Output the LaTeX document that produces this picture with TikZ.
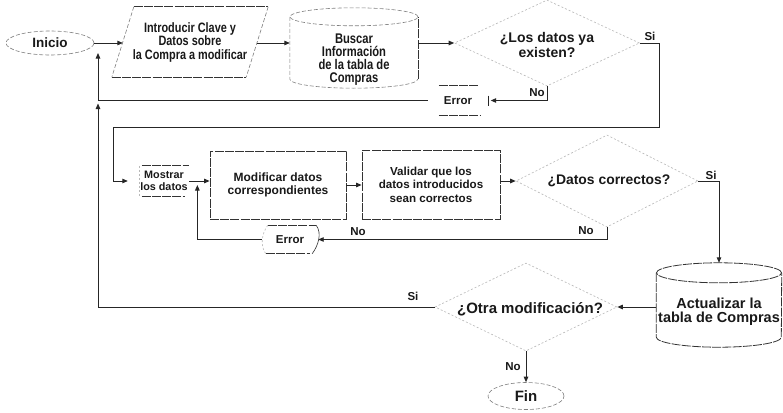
\documentclass[tikz,border=0pt]{standalone}
\usepackage{fontspec}
\setmainfont{Liberation Sans}
\newfontfamily\narrowfont{Liberation Sans}[FakeStretch=0.8]
\usetikzlibrary{shapes.geometric,arrows.meta,calc}
\newcommand{\fsz}[2]{\fontsize{#1}{#2}\selectfont\bfseries}
\begin{document}
\begin{tikzpicture}[x=1pt,y=-1pt,
  every node/.style={inner sep=0pt,align=center,text=black!90},
  conn/.style={draw=black!85,line width=0.9pt,-{Triangle[length=5.5pt,width=4.5pt]}},
  wire/.style={draw=black!85,line width=0.9pt},
  lbl/.style={font=\fsz{11.5}{13}},
  faintline/.style={draw=black!28,line width=0.6pt,dash pattern=on 2pt off 2pt},
  grayline/.style={draw=black!50,line width=0.6pt,dash pattern=on 4pt off 2pt},
  darkline/.style={draw=black!80,line width=0.8pt,dash pattern=on 9pt off 1.2pt},
]
\useasboundingbox[fill=white] (0,0) rectangle (783,412);

% ---------- first row ----------
\node[ellipse,grayline,minimum width=88pt,minimum height=24pt,font=\fsz{13.5}{15}] (inicio) at (50,43) {Inicio};

\node[rectangle,minimum width=156pt,minimum height=70pt,font={\narrowfont\fsz{13.6}{13.5}}] (intro) at (190,42)
  {Introducir Clave y\\Datos sobre\\la Compra a modificar};
\draw[darkline] ([xshift=22pt]intro.north west) -- (intro.north east);
\draw[darkline] (intro.south west) -- ([xshift=-22pt]intro.south east);
\draw[grayline] ([xshift=22pt]intro.north west) -- (intro.south west);
\draw[grayline] (intro.north east) -- ([xshift=-22pt]intro.south east);
\coordinate (intro-in) at ([xshift=11pt]intro.west);
\coordinate (intro-out) at ([xshift=-11pt]intro.east);

\node[rectangle,minimum width=128pt,minimum height=80pt] (buscar) at (354,48) {};
\draw[grayline] ([yshift=-9pt]buscar.north) ellipse [x radius=64pt,y radius=9pt];
\draw[grayline] ([yshift=-9pt]buscar.north west) -- ([yshift=9pt]buscar.south west)
  arc[start angle=180,end angle=360,x radius=64pt,y radius=9pt];
\draw[darkline] ([yshift=9pt]buscar.south east) -- ([yshift=-9pt]buscar.north east);
\node[font={\narrowfont\fsz{14}{13}}] (buscar-t) at (354,59.5) {Buscar\\Información\\de la tabla de\\Compras};

\node[diamond,faintline,minimum width=185pt,minimum height=86pt] (d1) at (547,43) {};
\node[font=\fsz{14}{15}] (d1-t) at (547,45) {¿Los datos ya\\existen?};

\node[rectangle,minimum width=60pt,minimum height=29pt,font=\fsz{11.5}{13}] (err1) at (458,100.5) {Error};
\draw[darkline] ([xshift=11pt]err1.north west) -- ([xshift=-10pt]err1.north east);
\draw[darkline] ([xshift=11pt]err1.south west) -- ([xshift=-8pt]err1.south east);
\draw[wire,line width=0.7pt] ([yshift=5pt]err1.east) -- ([yshift=-5pt]err1.east);

\draw[conn] (inicio.east) -- (inicio.east -| intro-in);
\draw[conn] (intro-out |- inicio.east) -- (inicio.east -| buscar.west);
\draw[conn] (d1.west -| buscar.east) -- (d1.west);
\draw[conn,shorten >=2.5pt] (d1.south) |- (err1.east);
\node[lbl] (no1) at (537,93) {No};
\node[lbl] (si1) at (650,36) {Si};

% ---------- second row ----------
\node[rectangle,minimum width=50pt,minimum height=30pt,font=\fsz{10.8}{12}] (mostrar) at (164,181) {Mostrar\\los datos};
\draw[darkline] ([xshift=3pt]mostrar.north west) -- (mostrar.north east);
\draw[darkline] ([xshift=3pt]mostrar.south west) -- ([xshift=-4pt]mostrar.south east);
\draw[faintline] (mostrar.north west) -- (mostrar.south west);

\coordinate (r1) at (659,127);
\coordinate (l1) at (113,127);
\draw[conn,shorten >=11pt] (d1.east) -| (r1) -- (l1) |- (mostrar.west);

\node[rectangle,darkline,minimum width=136pt,minimum height=68pt,font=\fsz{12}{13}] (modif) at (278,185) {Modificar datos\\correspondientes};
\node[rectangle,darkline,minimum width=138pt,minimum height=69pt,font=\fsz{11.6}{13.5}] (valid) at (431,184.5) {Validar que los\\datos introducidos\\sean correctos};

\node[diamond,faintline,minimum width=182pt,minimum height=92pt] (d2) at (607,181) {};
\node[font=\fsz{13.9}{15}] (d2-t) at (609,181) {¿Datos correctos?};

\draw[conn] (mostrar.east) -- (mostrar.east -| modif.west);
\coordinate (up1) at ($(mostrar.east)!0.4!(mostrar.east -| modif.west)$);
\draw[conn] (modif.east) -- (modif.east -| valid.west);
\draw[conn] (d2.west -| valid.east) -- (d2.west);

\node[rectangle,minimum width=56pt,minimum height=28pt,font=\fsz{11.5}{13}] (err2) at (290,239.5) {Error};
\draw[darkline] ([xshift=6pt]err2.north west) -- ([xshift=-2pt]err2.north east);
\draw[darkline] ([xshift=4pt]err2.south west) -- ([xshift=-8pt]err2.south east);
\draw[black!80,line width=0.6pt] ([xshift=-2pt]err2.north east) .. controls +(6,8) and +(6,-8) .. ([xshift=-6pt]err2.south east);
\draw[faintline] ([xshift=6pt]err2.north west) .. controls +(-6,8) and +(-6,-8) .. ([xshift=4pt]err2.south west);

\draw[conn] (d2.south) |- (err2.east);
\draw[conn,shorten >=4pt] (err2.west) -| (up1);
\node[lbl] (no2) at (586,231) {No};
\node[lbl] (no3) at (358,232) {No};
\node[lbl] (si2) at (711,175) {Si};

% ---------- third row ----------
\node[rectangle,minimum width=125pt,minimum height=84pt] (act) at (719,305) {};
\draw[darkline] ([yshift=-10pt]act.north) ellipse [x radius=62.5pt,y radius=10pt];
\draw[darkline] ([yshift=-10pt]act.north west) -- ([yshift=10pt]act.south west)
  arc[start angle=180,end angle=360,x radius=62.5pt,y radius=10pt] -- ([yshift=-10pt]act.north east);
\node[font=\fsz{14.5}{13.5}] (act-t) at (719,311.5) {Actualizar la\\tabla de Compras};

\draw[conn] (d2.east) -| (act.north);

\node[diamond,faintline,minimum width=182pt,minimum height=88pt] (d3) at (526,307) {};
\node[font=\fsz{15}{16}] (d3-t) at (530,309) {¿Otra modificación?};
\draw[conn] (act.west |- d3.east) -- (d3.east);

\node[ellipse,grayline,minimum width=76pt,minimum height=27pt,font=\fsz{15}{16}] (fin) at (526,396) {Fin};
\draw[conn] (d3.south) -- (fin.north);
\node[lbl] (no4) at (513,367) {No};
\node[lbl] (si3) at (413,296) {Si};

% ---------- return line on the left ----------
\coordinate (lb) at (98,307);
\coordinate (lm) at (err1.west -| lb);
\coordinate (lt) at (inicio.east -| lb);
\draw[wire] (d3.west) -- (lb);
\draw[conn,shorten >=3pt] (lb) -- (lm);
\draw[wire] (err1.west) -- (lm);
\draw[conn,shorten >=10pt] (lm) -- (lt);
\end{tikzpicture}
\end{document}
